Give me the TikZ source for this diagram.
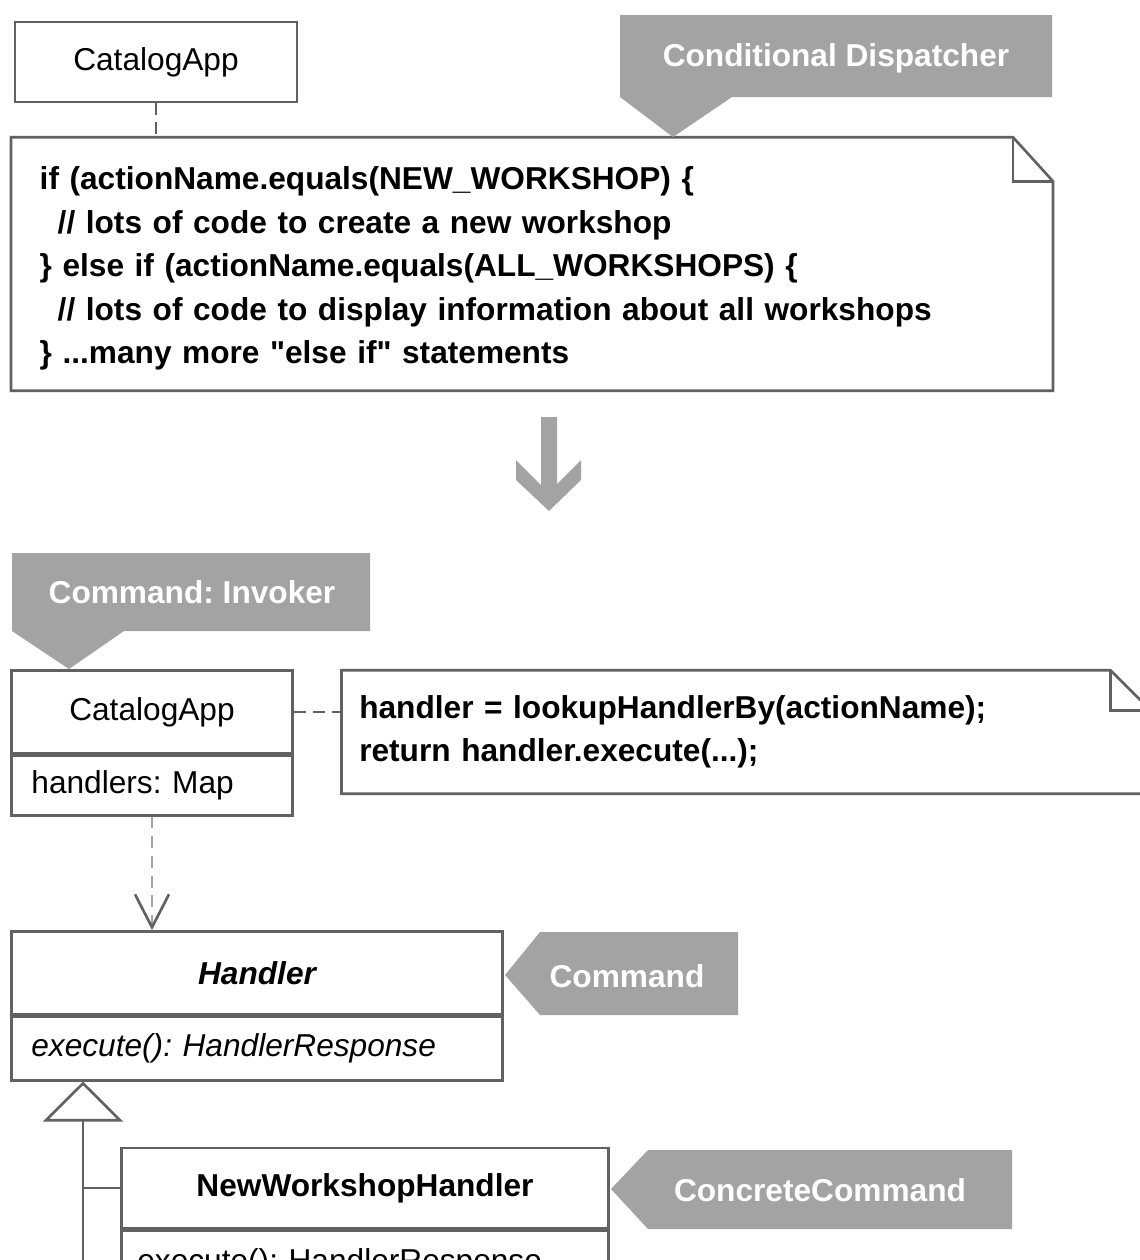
\documentclass[tikz,border=0pt]{standalone}
\usepackage{fontspec}
\setmainfont{Liberation Sans}
\usetikzlibrary{arrows.meta,positioning,calc}
\definecolor{tagGray}{gray}{0.64}
\definecolor{lineGray}{gray}{0.38}
\newcommand{\plaindq}{\XeTeXglyph\XeTeXcharglyph"22\relax}
\frenchspacing

\begin{document}
\begin{tikzpicture}[x=0.01cm, y=-0.01cm,
    classhead/.style={draw=lineGray, line width=0.75pt, fill=white, inner sep=0pt, font=\fontsize{9}{12.4}\selectfont},
    classbody/.style={draw=lineGray, line width=0.75pt, fill=white, inner ysep=0pt, align=left, font=\fontsize{9}{12.4}\selectfont},
    note/.style={inner ysep=0pt, align=left, font=\fontsize{9}{12.4}\selectfont\bfseries},
    outline/.style={draw=lineGray, line width=0.75pt, line join=miter},
    tag/.style={fill=tagGray},
    tagtext/.style={text=white, inner sep=0pt, font=\fontsize{9}{12.4}\selectfont\bfseries},
    link/.style={draw=lineGray, line width=0.75pt, dash pattern=on 3.4pt off 2pt},
    dep/.style={draw=black!35, line width=0.75pt, dash pattern=on 3.4pt off 2.2pt,
        -{Straight Barb[length=0.33cm, width=0.34cm, color=lineGray]}},
    inherit/.style={draw=lineGray, line width=0.75pt,
        -{Triangle[open, fill=white, length=0.40cm, width=0.80cm]}}
]
\useasboundingbox (0,0) rectangle (1140,1260);
\clip (0,0) rectangle (1140,1260);

% before: conditional dispatcher
\node[classhead, minimum width=2.82cm, minimum height=0.80cm] (app1) at (156,62) {CatalogApp};

\node[note, minimum width=10.40cm, minimum height=2.52cm, text width=9.84cm, inner xsep=0.28cm] (note1) at (532,264)
  {\rule{0pt}{0.32cm}if (actionName.equals(NEW\_WORKSHOP) \{\\
   \hspace{0.18cm}// lots of code to create a new workshop\\
   \} else if (actionName.equals(ALL\_WORKSHOPS) \{\\
   \hspace{0.18cm}// lots of code to display information about all workshops\\
   \} ...many more \plaindq else if\plaindq{} statements};
\draw[outline] (note1.south west) -- (note1.north west) -- ([xshift=-0.40cm]note1.north east)
  -- ([yshift=-0.44cm]note1.north east) -- (note1.south east) -- cycle;
\draw[outline] ([xshift=-0.40cm]note1.north east) |- ([yshift=-0.44cm]note1.north east);

\draw[link] (app1.south) -- (app1.south |- note1.north);

\fill[tag] (620,15) -- (1052,15) -- (1052,97) -- (732,97) -- (673,137) -- (620,97) -- cycle;
\node[tagtext] (tagcd) at (836,58) {Conditional Dispatcher};

% refactoring arrow
\fill[tagGray] (541,417) -- (557,417) -- (557,484) -- (581,460) -- (581,480) -- (549,511)
  -- (516,480) -- (516,460) -- (541,485) -- cycle;

% after: command
\fill[tag] (12,553) -- (370,553) -- (370,631) -- (124,631) -- (69,669) -- (12,631) -- cycle;
\node[tagtext] (taginv) at (192,592) {Command: Invoker};

\node[classhead, minimum width=2.81cm, minimum height=0.83cm] (app2) at (152,712) {CatalogApp};
\node[classbody, below=0pt of app2, minimum height=0.59cm, text width=2.41cm, inner xsep=0.2cm] (app2ops) {handlers: Map};

\node[note, minimum width=8.07cm, minimum height=1.22cm, text width=7.73cm, inner xsep=0.17cm] (note2) at (746,732)
  {handler = lookupHandlerBy(actionName);\\
   return handler.execute(...);};
\draw[outline] (note2.south west) -- (note2.north west) -- ([xshift=-0.40cm]note2.north east)
  -- ([yshift=-0.40cm]note2.north east) -- (note2.south east) -- cycle;
\draw[outline] ([xshift=-0.40cm]note2.north east) |- ([yshift=-0.40cm]note2.north east);

\draw[link] (app2.east) -- (app2.east -| note2.west);

\node[classhead, minimum width=4.91cm, minimum height=0.83cm, font=\fontsize{9}{12.4}\selectfont\bfseries\itshape] (handler) at (257,973) {Handler};
\node[classbody, below=0pt of handler, minimum height=0.63cm, text width=4.51cm, inner xsep=0.2cm, font=\fontsize{9}{12.4}\selectfont\itshape] (handlerops) {execute(): HandlerResponse};

\fill[tag] (540,932) -- (738,932) -- (738,1015) -- (540,1015) -- (505,975) -- cycle;
\node[tagtext] (tagcmd) at (627,976) {Command};

\draw[dep] (app2ops.south) -- (app2ops.south |- handler.north);

\node[classhead, minimum width=4.87cm, minimum height=0.80cm, font=\fontsize{9}{12.4}\selectfont\bfseries] (nwh) at (365,1188) {NewWorkshopHandler};
\node[classbody, below=0pt of nwh, minimum height=0.65cm, text width=4.55cm, inner xsep=0.16cm] (nwhops) {execute(): HandlerResponse};

\fill[tag] (648,1150) -- (1012,1150) -- (1012,1229) -- (648,1229) -- (611,1189) -- cycle;
\node[tagtext] (tagcc) at (820,1190) {ConcreteCommand};

% inheritance
\coordinate (trunk) at (83,1290);
\draw[inherit] (trunk) -- (trunk |- handlerops.south);
\draw[draw=lineGray, line width=0.75pt] (nwh.west) -- (nwh.west -| trunk);

\end{tikzpicture}
\end{document}
